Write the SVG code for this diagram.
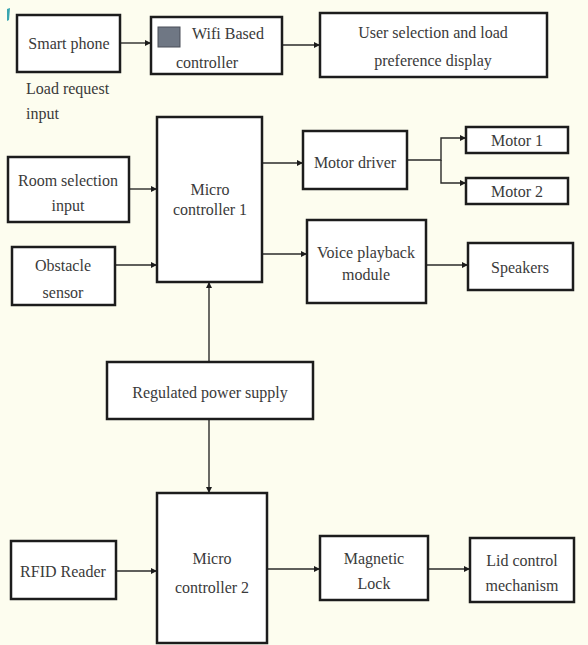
<svg xmlns="http://www.w3.org/2000/svg" width="588" height="645" viewBox="0 0 588 645">
<style>
.box{fill:#ffffff;stroke:#1c1c1c;stroke-width:2.5}
.t{font-family:"Liberation Serif","Times New Roman",serif;font-size:16px;fill:#3a3a3a;text-anchor:middle;dominant-baseline:central}
.tl{font-family:"Liberation Serif","Times New Roman",serif;font-size:16px;fill:#3a3a3a;dominant-baseline:central}
.c{fill:none;stroke:#2a2a2a;stroke-width:1.4}
</style>
<defs>
<marker id="ah" viewBox="0 0 8 8" refX="8" refY="4" markerWidth="6" markerHeight="6" markerUnits="userSpaceOnUse" orient="auto">
<path d="M0,0 L8,4 L0,8 z" fill="#1c1c1c"/>
</marker>
</defs>
<rect width="588" height="645" fill="#fdfdef"/>
<polygon points="7,9 10,8 9,20 7,21" fill="#3aa6b0"/>

<g id="connectors">
<line class="c" x1="120" y1="43" x2="151" y2="43" marker-end="url(#ah)"/>
<line class="c" x1="282" y1="45" x2="320" y2="45" marker-end="url(#ah)"/>
<line class="c" x1="129" y1="189" x2="157" y2="189" marker-end="url(#ah)"/>
<line class="c" x1="115" y1="265" x2="157" y2="265" marker-end="url(#ah)"/>
<line class="c" x1="262" y1="163" x2="303" y2="163" marker-end="url(#ah)"/>
<line class="c" x1="262" y1="254" x2="307" y2="254" marker-end="url(#ah)"/>
<polyline class="c" points="407,160 441,160 441,138 466,138" marker-end="url(#ah)"/>
<polyline class="c" points="441,160 441,183 466,183" marker-end="url(#ah)"/>
<line class="c" x1="426" y1="265" x2="468" y2="265" marker-end="url(#ah)"/>
<line class="c" x1="209" y1="362" x2="209" y2="282" marker-end="url(#ah)"/>
<line class="c" x1="209" y1="419" x2="209" y2="493" marker-end="url(#ah)"/>
<line class="c" x1="116" y1="571" x2="157" y2="571" marker-end="url(#ah)"/>
<line class="c" x1="267" y1="569" x2="320" y2="569" marker-end="url(#ah)"/>
<line class="c" x1="428" y1="569" x2="470" y2="569" marker-end="url(#ah)"/>
</g>

<g id="smartphone">
<rect class="box" x="17" y="15" width="103" height="57"/>
<text class="t" x="69" y="43">Smart phone</text>
</g>
<g id="load-request-label">
<text class="tl" x="26" y="88">Load request</text>
<text class="tl" x="26" y="113">input</text>
</g>
<g id="wifi">
<rect class="box" x="151" y="17" width="131" height="57"/>
<rect x="158" y="27" width="22" height="20" fill="#6f7784" stroke="#4a4f58" stroke-width="1"/>
<text class="t" x="228" y="33">Wifi Based</text>
<text class="t" x="207" y="62">controller</text>
</g>
<g id="user-display">
<rect class="box" x="320" y="13" width="227" height="64"/>
<text class="t" x="433" y="32">User selection and load</text>
<text class="t" x="433" y="60">preference display</text>
</g>
<g id="mc1">
<rect class="box" x="157" y="117" width="105" height="165"/>
<text class="t" x="210" y="189">Micro</text>
<text class="t" x="210" y="209">controller 1</text>
</g>
<g id="room">
<rect class="box" x="8" y="157" width="121" height="65"/>
<text class="t" x="68" y="180">Room selection</text>
<text class="t" x="68" y="205">input</text>
</g>
<g id="obstacle">
<rect class="box" x="12" y="247" width="103" height="58"/>
<text class="t" x="63" y="265">Obstacle</text>
<text class="t" x="63" y="292">sensor</text>
</g>
<g id="motor-driver">
<rect class="box" x="303" y="131" width="104" height="58"/>
<text class="t" x="355" y="162">Motor driver</text>
</g>
<g id="motor1">
<rect class="box" x="466" y="127" width="102" height="26"/>
<text class="t" x="517" y="140">Motor 1</text>
</g>
<g id="motor2">
<rect class="box" x="466" y="178" width="102" height="26"/>
<text class="t" x="517" y="191">Motor 2</text>
</g>
<g id="voice">
<rect class="box" x="307" y="220" width="119" height="83"/>
<text class="t" x="366" y="252">Voice playback</text>
<text class="t" x="366" y="274">module</text>
</g>
<g id="speakers">
<rect class="box" x="468" y="243" width="105" height="47"/>
<text class="t" x="520" y="267">Speakers</text>
</g>
<g id="power">
<rect class="box" x="107" y="362" width="206" height="57"/>
<text class="t" x="210" y="392">Regulated power supply</text>
</g>
<g id="mc2">
<rect class="box" x="157" y="493" width="110" height="150"/>
<text class="t" x="212" y="558">Micro</text>
<text class="t" x="212" y="587">controller 2</text>
</g>
<g id="rfid">
<rect class="box" x="11" y="541" width="105" height="58"/>
<text class="t" x="63" y="571">RFID Reader</text>
</g>
<g id="magnetic">
<rect class="box" x="320" y="536" width="108" height="64"/>
<text class="t" x="374" y="558">Magnetic</text>
<text class="t" x="374" y="583">Lock</text>
</g>
<g id="lid">
<rect class="box" x="470" y="538" width="104" height="64"/>
<text class="t" x="522" y="560">Lid control</text>
<text class="t" x="522" y="585">mechanism</text>
</g>
</svg>
